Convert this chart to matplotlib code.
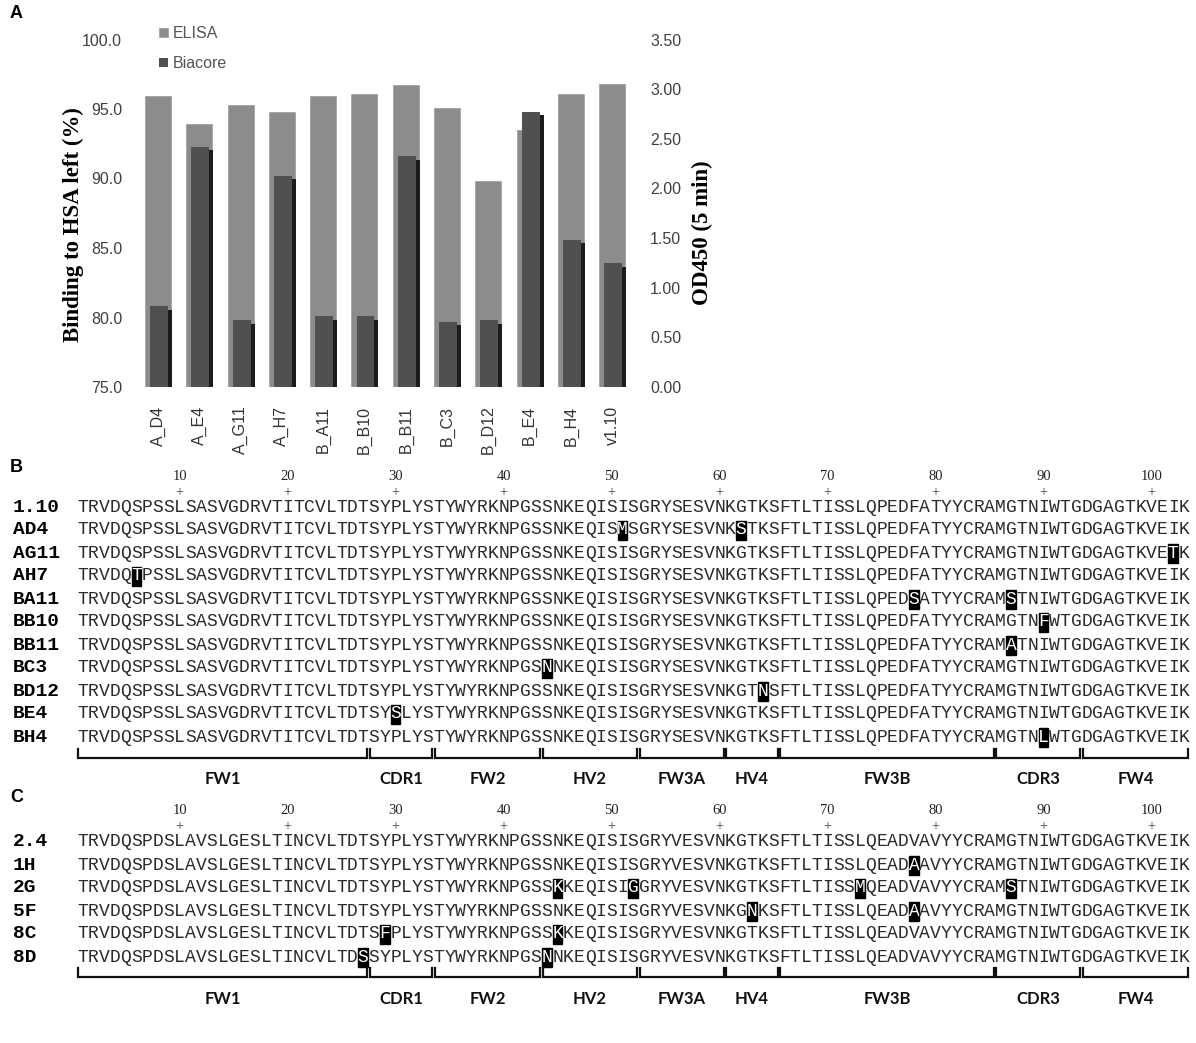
import numpy as np
import matplotlib.pyplot as plt
from matplotlib.patches import Rectangle

# ---- panel A data ----
clones = ['A_D4', 'A_E4', 'A_G11', 'A_H7', 'B_A11', 'B_B10', 'B_B11',
          'B_C3', 'B_D12', 'B_E4', 'B_H4', 'v1.10']
elisa_od = [2.93, 2.65, 2.84, 2.77, 2.93, 2.95, 3.04, 2.81, 2.07, 2.59, 2.95, 3.05]
biacore_pct = [80.8, 92.3, 79.8, 90.2, 80.1, 80.1, 91.6, 79.7, 79.8, 94.8, 85.6, 83.9]

# ---- panel B data ----
ref_b_name = '1.10'
ref_b = 'TRVDQSPSSLSASVGDRVTITCVLTDTSYPLYSTYWYRKNPGSSNKEQISISGRYSESVNKGTKSFTLTISSLQPEDFATYYCRAMGTNIWTGDGAGTKVEIK'
clones_b = ['AD4', 'AG11', 'AH7', 'BA11', 'BB10', 'BB11', 'BC3', 'BD12', 'BE4', 'BH4']
muts_b = [[(51, 'M'), (62, 'S')], [(102, 'T')], [(6, 'T')], [(78, 'S'), (87, 'S')],
          [(90, 'F')], [(87, 'A')], [(44, 'N')], [(64, 'N')], [(30, 'S')], [(90, 'L')]]

# ---- panel C data ----
ref_c_name = '2.4'
ref_c = 'TRVDQSPDSLAVSLGESLTINCVLTDTSYPLYSTYWYRKNPGSSNKEQISISGRYVESVNKGTKSFTLTISSLQEADVAVYYCRAMGTNIWTGDGAGTKVEIK'
clones_c = ['1H', '2G', '5F', '8C', '8D']
muts_c = [[(78, 'A')], [(45, 'K'), (52, 'G'), (73, 'M'), (87, 'S')],
          [(63, 'N'), (78, 'A')], [(29, 'F'), (45, 'K')], [(27, 'S'), (44, 'N')]]

regions = ['FW1', 'CDR1', 'FW2', 'HV2', 'FW3A', 'HV4', 'FW3B', 'CDR3', 'FW4']
region_ends = [27, 33, 43, 52, 60, 65, 85, 93, 103]
ruler = list(range(10, 101, 10))

W, H = 1196, 1043
fig = plt.figure(figsize=(W / 100, H / 100), dpi=100)


def fx(px):
    return px / W


def fy(py):
    return 1 - py / H


# ---------------- panel A ----------------
sans = ['Liberation Sans', 'DejaVu Sans']
serif = ['Liberation Serif', 'DejaVu Serif']
left, right, top, bot = 133.2, 637.0, 39.5, 387.0
ax1 = fig.add_axes([fx(left), fy(bot), fx(right) - fx(left), fy(top) - fy(bot)])
ax2 = ax1.twinx()
x = np.arange(len(clones))

b_el = ax2.bar(x, elisa_od, width=0.63, color='#8c8c8c', edgecolor='#9a9a9a', linewidth=0.5)
ax2.set_ylim(0, 3.5)

ax1.bar(x + 0.29, np.array(biacore_pct) - 0.25, width=0.1, color='#1c1c1c')
b_bi = ax1.bar(x + 0.025, biacore_pct, width=0.435, color='#505050')
ax1.set_ylim(75, 100)
ax1.set_xlim(-0.6, 11.6)
ax1.set_zorder(ax2.get_zorder() + 1)
ax1.patch.set_visible(False)
ax1.axhline(75, color='#dddddd', lw=0.8, zorder=0)

ax1.set_yticks(np.arange(75, 100.1, 5))
ax1.set_yticklabels([f'{v:.1f}' for v in np.arange(75, 100.1, 5)])
ax2.set_yticks(np.arange(0, 3.51, 0.5))
ax2.set_yticklabels([f'{v:.2f}' for v in np.arange(0, 3.51, 0.5)])
ax1.set_xticks(x)
ax1.set_xticklabels(clones, rotation=90, va='top', ha='center')

for a in (ax1, ax2):
    for s in a.spines.values():
        s.set_visible(False)
ax1.tick_params(axis='y', length=0, pad=8, labelsize=11.5, labelcolor='#404040')
ax2.tick_params(axis='y', length=0, pad=9.5, labelsize=11.5, labelcolor='#404040')
ax1.tick_params(axis='x', length=0, pad=13.5, labelsize=11.5, labelcolor='#333333')
for lab in ax1.get_yticklabels() + ax2.get_yticklabels() + ax1.get_xticklabels():
    lab.set_family(sans)

fig.legend([b_el, b_bi], ['ELISA', 'Biacore'], loc='upper left',
           bbox_to_anchor=(fx(151), fy(18)), bbox_transform=fig.transFigure,
           frameon=False, borderpad=0, handlelength=0.55, handleheight=0.55,
           handletextpad=0.3, labelspacing=0.95,
           prop={'family': sans, 'size': 11.5}, labelcolor='#555555')

fig.text(fx(73), fy(225), 'Binding to HSA left (%)', rotation=90, ha='center', va='center',
         fontsize=16.5, fontweight='bold', family=serif)
fig.text(fx(702), fy(233), 'OD450 (5 min)', rotation=90, ha='center', va='center',
         fontsize=16.5, fontweight='bold', family=serif)

# ---------------- panels B and C ----------------
axs = fig.add_axes([0, 0, 1, 1])
axs.set_xlim(0, W)
axs.set_ylim(H, 0)
axs.axis('off')
axs.patch.set_visible(False)

X0, CW = 77.0, 10.8
BOX_H = 19
mono = ['Liberation Mono', 'DejaVu Sans Mono']


def cx(pos):
    return X0 + (pos - 0.5) * CW


def draw_block(ref_name, ref_seq, names, muts, num_y, plus_y, row0, dy, br_y, lab_y):
    for p in ruler:
        axs.text(cx(p), num_y, str(p), ha='center', va='center', fontsize=10.5,
                 family=serif, color='#222222')
        axs.text(cx(p), plus_y, '+', ha='center', va='center', fontsize=10,
                 family=serif, color='#444444')
    rows = [(ref_name, [])] + list(zip(names, muts))
    for r, (name, mlist) in enumerate(rows):
        y = row0 + r * dy
        axs.text(13, y, name, ha='left', va='center', fontsize=14, fontweight='bold',
                 family=mono, color='black')
        seq = list(ref_seq)
        mpos = set()
        for pos, aa in mlist:
            seq[pos - 1] = aa
            mpos.add(pos)
        for i, ch in enumerate(seq, start=1):
            if i in mpos:
                axs.add_patch(Rectangle((cx(i) - CW / 2 + 0.6, y - BOX_H / 2), CW - 1.2, BOX_H,
                                        color='black', zorder=2))
                axs.text(cx(i), y, ch, ha='center', va='center', fontsize=12.96,
                         family=mono, color='white', zorder=3)
            else:
                axs.text(cx(i), y, ch, ha='center', va='center', fontsize=12.96,
                         family=mono, color='#2a2a2a')
    start = 0
    for name, end in zip(regions, region_ends):
        xa = X0 + start * CW + 1.2
        xb = X0 + end * CW - 1.2
        axs.plot([xa, xa, xb, xb], [br_y - 9, br_y, br_y, br_y - 9], color='#111111', lw=1.6,
                 solid_joinstyle='miter')
        axs.text((xa + xb) / 2, lab_y, name, ha='center', va='center', fontsize=12,
                 fontweight='bold', family=['Lato', 'DejaVu Sans'], color='#111111')
        start = end


draw_block(ref_b_name, ref_b, clones_b, muts_b, 477, 493, 507, 23.0, 758, 779)
draw_block(ref_c_name, ref_c, clones_c, muts_c, 811, 827, 842, 23.0, 977, 999)

for lab, py in [('A', 14), ('B', 467), ('C', 797)]:
    fig.text(fx(10), fy(py), lab, ha='left', va='center', fontsize=13,
             fontweight='bold', family=sans)

fig.savefig('out.png', dpi=100)
